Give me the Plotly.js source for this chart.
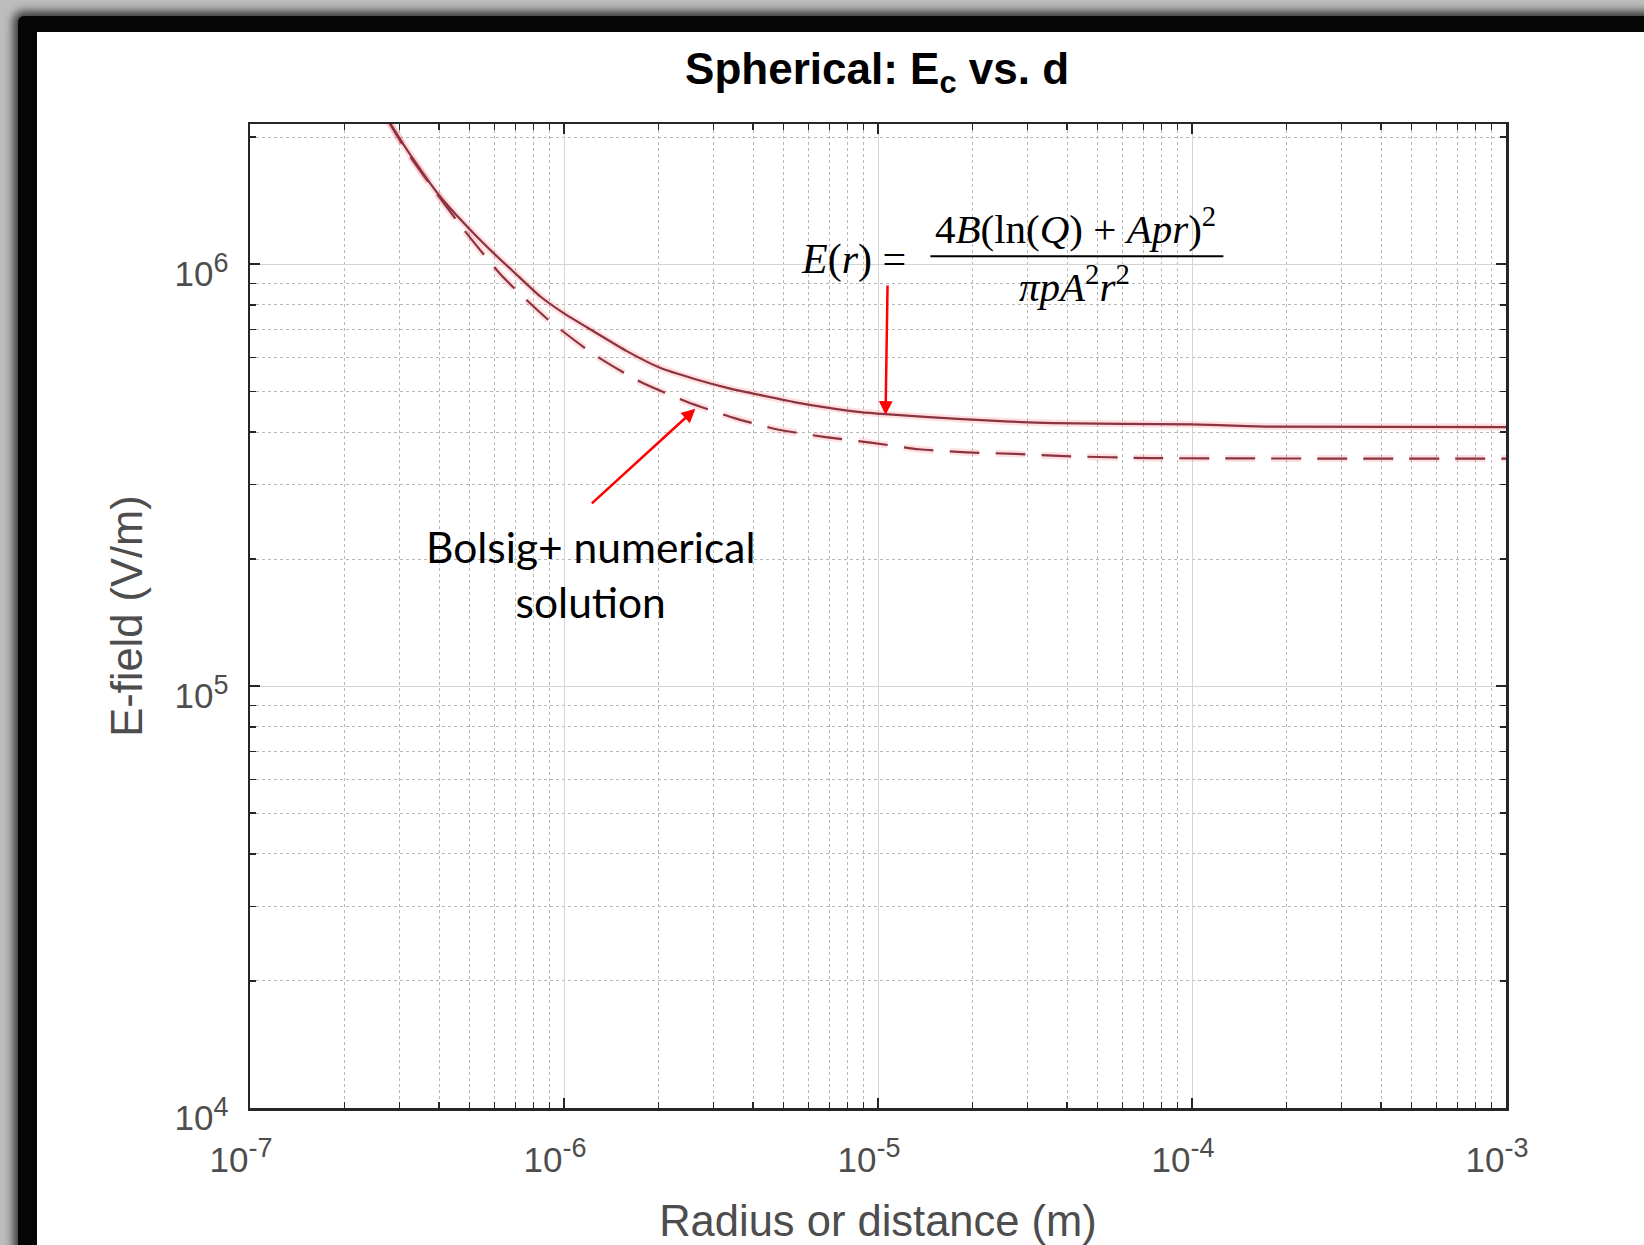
<!DOCTYPE html>
<html>
<head>
<meta charset="utf-8">
<script src="https://cdn.plot.ly/plotly-3.0.1.min.js"></script>
<style>
  html, body { margin: 0; padding: 0; width: 1644px; height: 1245px; overflow: hidden; background: #bdbdbd; }
  #frame { position: absolute; left: 18px; top: 16px; right: -40px; bottom: -40px; background: #050505;
           box-shadow: 0 0 9px 5px rgba(20,20,20,0.75); border-top-left-radius: 6px; }
  #inner { position: absolute; left: 37px; top: 32px; right: 0; bottom: 0; background: #ffffff; }
  #chart { position: absolute; left: 0; top: 0; width: 1644px; height: 1245px; }
</style>
</head>
<body>
<div id="frame"></div>
<div id="inner"></div>
<div id="chart"></div>
<script>
// ---- data ----
const analyticR = [2.72e-7, 2.80e-7, 3.17e-7, 4.05e-7, 5.17e-7, 5.98e-7, 6.92e-7, 8.41e-7, 9.98e-7,
  1.245e-6, 1.59e-6, 2.03e-6, 2.59e-6, 3.31e-6, 4.23e-6, 5.40e-6, 6.89e-6, 8.80e-6, 1.057e-5,
  1.85e-5, 3.62e-5, 1.0e-4, 1.75e-4, 1.0e-3];
const analyticE = [2.22e6, 2.15e6, 1.86e6, 1.44e6, 1.18e6, 1.06e6, 9.58e5, 8.38e5, 7.65e5,
  6.92e5, 6.21e5, 5.67e5, 5.35e5, 5.09e5, 4.89e5, 4.71e5, 4.57e5, 4.46e5, 4.41e5,
  4.29e5, 4.20e5, 4.17e5, 4.12e5, 4.11e5];

const bolsigR = [2.72e-7, 3.17e-7, 3.71e-7, 4.74e-7, 6.35e-7, 8.85e-7, 1.245e-6, 1.75e-6, 2.46e-6,
  3.47e-6, 4.83e-6, 6.81e-6, 9.6e-6, 1.35e-5, 1.92e-5, 2.74e-5, 3.76e-5, 7.38e-5, 1.0e-3];
const bolsigE = [2.22e6, 1.84e6, 1.56e6, 1.22e6, 9.37e5, 7.41e5, 6.11e5, 5.26e5, 4.72e5,
  4.32e5, 4.05e5, 3.89e5, 3.77e5, 3.64e5, 3.58e5, 3.55e5, 3.51e5, 3.47e5, 3.46e5];

const xTickVals = [1e-7, 1e-6, 1e-5, 1e-4, 1e-3];
const xTickExp = ['-7', '-6', '-5', '-4', '-3'];
const yTickVals = [1e4, 1e5, 1e6];
const yTickExp = ['4', '5', '6'];

const titleText = 'Spherical: E<sub>c</sub> vs. d';
const xLabel = 'Radius or distance (m)';
const yLabel = 'E-field (V/m)';
const eqLeft = '<i>E</i>(<i>r</i>) =';
const eqNum = '4<i>B</i>(ln(<i>Q</i>) + <i>Apr</i>)<sup>2</sup>';
const eqDen = '<i>πpA</i><sup>2</sup><i>r</i><sup>2</sup>';
const bolsigNote = 'Bolsig+ numerical<br>solution';

// ---- styling ----
const lineCol = '#8a3442';
const haloCol = 'rgba(255,110,110,0.22)';
const axisCol = '#262626';
const textCol = '#4d4d4d';
const sans = 'Liberation Sans, Arial, Helvetica, sans-serif';
const serif = 'Liberation Serif, DejaVu Serif, serif';
const powLabel = e => '10<sup><span style="font-size:27px">' + e + '</span></sup>';

const traces = [
  {x: analyticR, y: analyticE, mode: 'lines', line: {color: haloCol, width: 7, shape: 'spline', smoothing: 0.6}, hoverinfo: 'skip'},
  {x: bolsigR, y: bolsigE, mode: 'lines', line: {color: haloCol, width: 7, dash: '30px,16px', shape: 'spline', smoothing: 0.6}, hoverinfo: 'skip'},
  {x: analyticR, y: analyticE, mode: 'lines', name: 'Analytic', line: {color: lineCol, width: 2.2, shape: 'spline', smoothing: 0.6}},
  {x: bolsigR, y: bolsigE, mode: 'lines', name: 'Bolsig+', line: {color: lineCol, width: 2.2, dash: '30px,16px', shape: 'spline', smoothing: 0.6}}
];

const axisCommon = {
  type: 'log',
  tickmode: 'array',
  ticks: 'inside',
  ticklen: 10,
  tickwidth: 1.5,
  tickcolor: axisCol,
  showline: true,
  linecolor: axisCol,
  linewidth: 2.5,
  mirror: 'ticks',
  showgrid: true,
  gridcolor: '#d4d4d4',
  gridwidth: 1,
  zeroline: false,
  tickfont: {family: sans, size: 35, color: textCol},
  minor: {dtick: 'D1', ticks: 'inside', ticklen: 6, tickwidth: 1.2, tickcolor: axisCol,
          showgrid: true, gridcolor: '#b8b8b8', gridwidth: 1, griddash: 'dot'}
};

const layout = {
  width: 1644, height: 1245,
  margin: {l: 250, r: 138, t: 124, b: 137},
  paper_bgcolor: 'rgba(0,0,0,0)',
  plot_bgcolor: '#ffffff',
  showlegend: false,
  title: {text: titleText, font: {family: sans, size: 44, color: '#000000', weight: 'bold'},
          x: 0.5335, xanchor: 'center', y: 0.945, yanchor: 'middle', yref: 'container'},
  xaxis: Object.assign({}, axisCommon, {
    range: [-7, -3], tickvals: xTickVals, ticktext: xTickExp.map(powLabel),
    ticklabelstandoff: 19, ticklabelshift: -9,
    title: {text: xLabel, font: {family: sans, size: 43.5, color: textCol}, standoff: 29}
  }),
  yaxis: Object.assign({}, axisCommon, {
    range: [4, 6.332], tickvals: yTickVals, ticktext: yTickExp.map(powLabel),
    ticklabelstandoff: 12, ticklabelshift: 10,
    title: {text: yLabel, font: {family: sans, size: 43.5, color: textCol}, standoff: 19}
  }),
  shapes: [
    {type: 'line', xref: 'paper', yref: 'paper', x0: 0.5417, x1: 0.7750, y0: 0.8656, y1: 0.8656,
     line: {color: '#000000', width: 2}}
  ],
  annotations: [
    {xref: 'paper', yref: 'paper', x: 0.4805, y: 0.8625, text: eqLeft, showarrow: false,
     xanchor: 'center', yanchor: 'middle', font: {family: serif, size: 42, color: '#000000'}},
    {xref: 'paper', yref: 'paper', x: 0.6572, y: 0.8960, text: eqNum, showarrow: false,
     xanchor: 'center', yanchor: 'middle', font: {family: serif, size: 41, color: '#000000'}},
    {xref: 'paper', yref: 'paper', x: 0.6564, y: 0.8370, text: eqDen, showarrow: false,
     xanchor: 'center', yanchor: 'middle', font: {family: serif, size: 41, color: '#000000'}},
    {x: Math.log10(1.057e-5), y: Math.log10(4.39e5), xref: 'x', yref: 'y', text: '',
     showarrow: true, arrowhead: 2, arrowsize: 1.1, arrowwidth: 2.5, arrowcolor: '#ff0000',
     ax: 2, ay: -131},
    {x: Math.log10(2.62e-6), y: Math.log10(4.54e5), xref: 'x', yref: 'y', text: '',
     showarrow: true, arrowhead: 2, arrowsize: 1.1, arrowwidth: 2.5, arrowcolor: '#ff0000',
     ax: -105, ay: 96},
    {xref: 'paper', yref: 'paper', x: 0.2711, y: 0.5425, text: bolsigNote, showarrow: false,
     xanchor: 'center', yanchor: 'middle', align: 'center',
     font: {family: 'Lato, Open Sans, sans-serif', size: 42.5, color: '#000000'}}
  ]
};

Plotly.newPlot('chart', traces, layout, {displayModeBar: false, staticPlot: true});
</script>
</body>
</html>
